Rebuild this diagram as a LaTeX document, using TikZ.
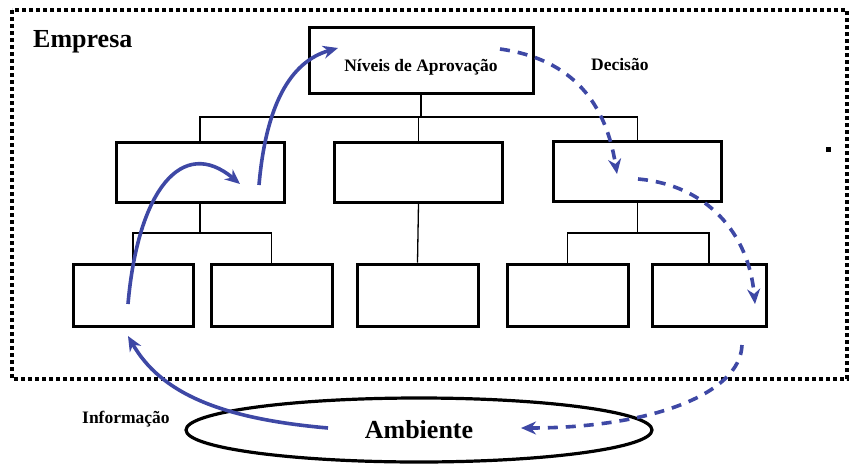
\documentclass[tikz,border=0pt]{standalone}
\usepackage{fontspec}
\setmainfont{Liberation Serif}
\usepackage{tikz}
\usetikzlibrary{arrows.meta}
\usetikzlibrary{shapes.geometric}
\usetikzlibrary{positioning}
\definecolor{azul}{RGB}{62,72,165}

\begin{document}
\begin{tikzpicture}[x=1pt, y=1pt,
bx/.style={rectangle, draw, line width=3pt, inner sep=0pt},
ln/.style={line width=1.3pt},
lb/.style={font=\fontsize{17.5}{20}\selectfont\bfseries, inner sep=0pt},
fl/.style={azul, line width=3.6pt, -{Stealth[length=15pt, width=13pt]}},
fld/.style={fl, dash pattern=on 10pt off 8pt}]
\useasboundingbox (0,0) rectangle (851,-466);
\draw[line width=4pt, dash pattern=on 4pt off 3pt] (12,-10) rectangle (847,-379);
\node[lb, font=\fontsize{26}{30}\selectfont\bfseries, anchor=base west] (emp) at (33,-47) {Empresa};
\node[bx, lb, minimum width=224pt, minimum height=66pt, text height=26pt, text depth=4pt] (top) at (421,-60) {Níveis de Aprovação};
\node[bx, minimum width=168pt, minimum height=60pt] (midL) at (200,-172) {};
\node[bx, minimum width=168pt, minimum height=60pt] (midC) at (418.5,-172) {};
\node[bx, minimum width=168pt, minimum height=60pt] (midR) at (637.5,-171) {};
\node[bx, minimum width=120pt, minimum height=62pt] (b1) at (133,-295) {};
\node[bx, minimum width=121pt, minimum height=62pt] (b2) at (271.5,-295) {};
\node[bx, minimum width=121pt, minimum height=62pt] (b3) at (417.5,-295) {};
\node[bx, minimum width=121pt, minimum height=62pt] (b4) at (567.5,-295) {};
\node[bx, minimum width=114pt, minimum height=62pt] (b5) at (709,-295) {};
\node[ellipse, draw, line width=3.2pt, minimum width=466pt, minimum height=64pt, inner sep=0pt,
  font=\fontsize{26}{30}\selectfont\bfseries] (amb) at (419,-430) {Ambiente};
\node[lb, anchor=base west] (dec) at (591,-70) {Decisão};
\node[lb, anchor=base west] (inf) at (82,-423) {Informação};
% organograma
\coordinate (j1) at (421,-117);
\coordinate (j2) at (200,-233);
\coordinate (j3) at (637.5,-233);
\draw[ln] (top.south) -- (j1);
\draw[ln] (midL.north) |- (j1) -| (midR.north);
\draw[ln] (midC.north) -- (midC.north |- j1);
\draw[ln] (midL.south) -- (j2);
\draw[ln] (b1.north) |- (j2) -| (b2.north);
\draw[ln] (midC.south) -- (b3.north);
\draw[ln] (midR.south) -- (j3);
\draw[ln] (b4.north) |- (j3) -| (b5.north);
% fluxo
\coordinate (i0) at (328,-428);
\coordinate (i1) at (128,-336);
\coordinate (i2) at (128,-304);
\coordinate (i3) at (240,-184);
\coordinate (i4) at (259,-185);
\coordinate (i5) at (338,-48);
\coordinate (d0) at (500,-49);
\coordinate (d1) at (617,-174);
\coordinate (d2) at (638,-179);
\coordinate (d3) at (755,-304);
\coordinate (d4) at (742,-345);
\coordinate (d5) at (521,-428);
\draw[fl] (i0) to[out=175, in=-60, out distance=110pt, in distance=65pt] (i1);
\draw[fl] (i2) to[out=85, in=140, out distance=115pt, in distance=75pt] (i3);
\draw[fl] (i4) to[out=85, in=196, out distance=80pt, in distance=50pt] (i5);
\draw[fld] (d0) to[out=-8, in=99, out distance=75pt, in distance=70pt] (d1);
\draw[fld] (d2) to[out=-5, in=95, out distance=70pt, in distance=70pt] (d3);
\draw[fld] (d4) to[out=-92, in=0, out distance=50pt, in distance=127pt] (d5);
\fill (826,-147) rectangle (831,-152);
\end{tikzpicture}
\end{document}
